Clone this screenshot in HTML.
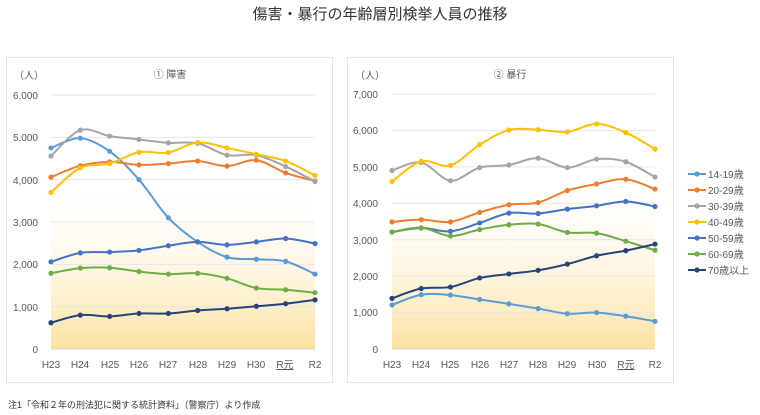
<!DOCTYPE html>
<html><head><meta charset="utf-8"><style>
body{margin:0;background:#fff;width:760px;height:415px;overflow:hidden;font-family:"Liberation Sans","Noto Sans CJK JP",sans-serif;}
svg{position:absolute;left:0;top:0}
text{font-family:"Liberation Sans","Noto Sans CJK JP",sans-serif;fill:#595959}
</style></head><body>
<svg id="s" width="760" height="415" xmlns="http://www.w3.org/2000/svg">
<defs>
<linearGradient id="g1" x1="0" y1="0" x2="0" y2="1">
<stop offset="0" stop-color="#fff" stop-opacity="0"/><stop offset="1" stop-color="#fde2a0"/></linearGradient>
</defs>
<text x="380" y="19" text-anchor="middle" font-size="15" style="fill:#333">傷害・暴行の年齢層別検挙人員の推移</text>
<rect x="6.5" y="57.5" width="326" height="325" fill="#fff" stroke="#e4e4e4"/>
<rect x="347.5" y="57.5" width="326" height="325" fill="#fff" stroke="#e4e4e4"/>
<rect x="51" y="175" width="264" height="174" fill="url(#g1)"/>
<rect x="392" y="167" width="263" height="182" fill="url(#g1)"/>
<text x="170" y="78" text-anchor="middle" font-size="10">① 障害</text>
<text x="510" y="78" text-anchor="middle" font-size="10">② 暴行</text>
<text x="14" y="79" font-size="10">（人）</text>
<text x="355" y="79" font-size="10">（人）</text>
<g font-size="10" text-anchor="end">
<text x="38" y="99">6,000</text><text x="38" y="141">5,000</text><text x="38" y="184">4,000</text><text x="38" y="226">3,000</text><text x="38" y="268">2,000</text><text x="38" y="311">1,000</text><text x="38" y="353">0</text>
<text x="378" y="98">7,000</text><text x="378" y="134">6,000</text><text x="378" y="171">5,000</text><text x="378" y="207">4,000</text><text x="378" y="244">3,000</text><text x="378" y="280">2,000</text><text x="378" y="316">1,000</text><text x="378" y="353">0</text>
</g>
<g font-size="10" text-anchor="middle">
<text x="51" y="368">H23</text><text x="80" y="368">H24</text><text x="110" y="368">H25</text><text x="139" y="368">H26</text><text x="168" y="368">H27</text><text x="198" y="368">H28</text><text x="227" y="368">H29</text><text x="256" y="368">H30</text><text x="285" y="368" text-decoration="underline">R元</text><text x="315" y="368">R2</text>
<text x="392" y="368">H23</text><text x="421" y="368">H24</text><text x="450" y="368">H25</text><text x="480" y="368">H26</text><text x="509" y="368">H27</text><text x="538" y="368">H28</text><text x="567" y="368">H29</text><text x="597" y="368">H30</text><text x="626" y="368" text-decoration="underline">R元</text><text x="655" y="368">R2</text>
</g>
<g font-size="10">
<text x="708" y="178">14-19歳</text><text x="708" y="194">20-29歳</text><text x="708" y="210">30-39歳</text><text x="708" y="226">40-49歳</text><text x="708" y="242">50-59歳</text><text x="708" y="258">60-69歳</text><text x="708" y="274">70歳以上</text>
</g>
<text x="8" y="408" font-size="9" style="fill:#333">注1「令和２年の刑法犯に関する統計資料」（警察庁）より作成</text>
<g id="plot"></g>
</svg>
<script>
var C=["#5b9bd5","#ed7d31","#a5a5a5","#ffc000","#4472c4","#70ad47","#264478"];
var D1=[[4750,4980,4670,4000,3100,2530,2170,2120,2070,1770],[4060,4330,4420,4350,4380,4440,4320,4460,4160,3970],[4560,5170,5030,4950,4870,4860,4580,4580,4310,3960],[3700,4280,4380,4650,4640,4880,4750,4600,4440,4100],[2060,2270,2290,2330,2440,2530,2460,2530,2610,2490],[1790,1910,1920,1830,1770,1790,1670,1440,1400,1330],[620,800,770,840,840,910,950,1010,1070,1160]];
var D2=[[1210,1490,1480,1360,1240,1110,970,1000,900,760],[3490,3550,3490,3750,3960,4020,4350,4530,4660,4390],[4900,5120,4620,4980,5050,5240,4980,5210,5140,4720],[4600,5150,5040,5610,6010,6020,5960,6180,5940,5490],[3210,3320,3230,3460,3730,3720,3840,3930,4050,3910],[3210,3330,3100,3280,3410,3430,3200,3180,2960,2710],[1390,1660,1700,1950,2060,2160,2330,2560,2700,2880]];
var g=document.getElementById("plot"),h="";
function grid(x0,x1,y0,step,n){for(var i=1;i<=n;i++){var y=y0-i*step;h+='<line x1="'+x0+'" x2="'+x1+'" y1="'+y+'" y2="'+y+'" stroke="#e6e6e6"/>';}h+='<line x1="'+x0+'" x2="'+x1+'" y1="'+y0+'" y2="'+y0+'" stroke="#d9d9d9"/>';}
function chart(D,x0,x1,y0,ppk){var dx=(x1-x0)/9;D.forEach(function(s,k){var p=s.map(function(v,i){return[x0+i*dx,y0-v/1000*ppk]});var d="M"+p[0];for(var i=0;i<9;i++){var a=p[i>0?i-1:0],b=p[i],c=p[i+1],e=p[i<8?i+2:9];d+=" C"+(b[0]+(c[0]-a[0])/6)+","+(b[1]+(c[1]-a[1])/6)+" "+(c[0]-(e[0]-b[0])/6)+","+(c[1]-(e[1]-b[1])/6)+" "+c;}h+='<path d="'+d+'" fill="none" stroke="'+C[k]+'" stroke-width="2"/>';p.forEach(function(q){h+='<circle cx="'+q[0]+'" cy="'+q[1]+'" r="2.6" fill="'+C[k]+'"/>';});});}
grid(51,315,349,42.33,6);grid(392,655,349,36.43,7);
chart(D1,51,315,349,42.33);chart(D2,392,655,349,36.43);
C.forEach(function(c,i){var y=174+i*16;h+='<line x1="688" x2="706" y1="'+y+'" y2="'+y+'" stroke="'+c+'" stroke-width="2"/><circle cx="697" cy="'+y+'" r="2.6" fill="'+c+'"/>';});
g.innerHTML=h;
</script>
</body></html>
